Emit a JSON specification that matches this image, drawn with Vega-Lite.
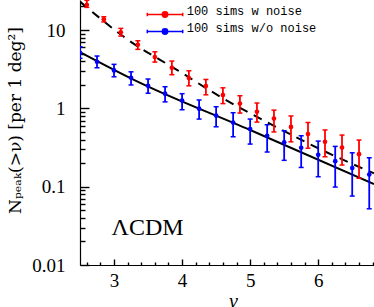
{
  "$schema": "https://vega.github.io/schema/vega-lite/v6.json",
  "width": 294,
  "height": 265,
  "autosize": {"type": "none"},
  "padding": {"left": 80, "top": 0, "right": 0, "bottom": 42},
  "background": "white",
  "config": {
    "view": {"stroke": null, "fill": null},
    "axis": {"zindex": 1, "grid": false, "domainColor": "#000000", "domainWidth": 1.2, "ticks": true, "tickColor": "#000000", "tickWidth": 1.4, "tickOpacity": 1, "labelColor": "#000000", "titleColor": "#000000", "labelFont": "Liberation Serif", "labelFontSize": 19, "titleFont": "Liberation Serif", "titleFontWeight": "normal", "labelOverlap": false, "labelFlush": false, "labelBound": false}
  },
  "resolve": {"axis": {"x": "independent", "y": "independent"}},
  "datasets": {
    "pts": [
      {"s": "100 sims w noise", "nu": 2.6, "n": 21.0, "lo": 19.5, "hi": 24.0},
      {"s": "100 sims w noise", "nu": 2.85, "n": 13.7, "lo": 12.7, "hi": 14.8},
      {"s": "100 sims w noise", "nu": 3.1, "n": 9.35, "lo": 8.38, "hi": 10.5},
      {"s": "100 sims w noise", "nu": 3.35, "n": 6.49, "lo": 5.67, "hi": 7.3},
      {"s": "100 sims w noise", "nu": 3.6, "n": 4.52, "lo": 3.9, "hi": 5.28},
      {"s": "100 sims w noise", "nu": 3.85, "n": 3.3, "lo": 2.69, "hi": 4.02},
      {"s": "100 sims w noise", "nu": 4.1, "n": 2.44, "lo": 1.94, "hi": 3.02},
      {"s": "100 sims w noise", "nu": 4.35, "n": 1.93, "lo": 1.49, "hi": 2.34},
      {"s": "100 sims w noise", "nu": 4.6, "n": 1.48, "lo": 1.15, "hi": 1.83},
      {"s": "100 sims w noise", "nu": 4.85, "n": 1.15, "lo": 0.871, "hi": 1.45},
      {"s": "100 sims w noise", "nu": 5.1, "n": 0.905, "lo": 0.668, "hi": 1.17},
      {"s": "100 sims w noise", "nu": 5.35, "n": 0.74, "lo": 0.5, "hi": 0.95},
      {"s": "100 sims w noise", "nu": 5.6, "n": 0.58, "lo": 0.374, "hi": 0.8},
      {"s": "100 sims w noise", "nu": 5.85, "n": 0.47, "lo": 0.31, "hi": 0.66},
      {"s": "100 sims w noise", "nu": 6.1, "n": 0.374, "lo": 0.241, "hi": 0.53},
      {"s": "100 sims w noise", "nu": 6.35, "n": 0.316, "lo": 0.189, "hi": 0.456},
      {"s": "100 sims w noise", "nu": 6.6, "n": 0.26, "lo": 0.128, "hi": 0.394},
      {"s": "100 sims w/o noise", "nu": 2.5, "n": 5.1, "lo": 4.36, "hi": 6.12},
      {"s": "100 sims w/o noise", "nu": 2.75, "n": 3.94, "lo": 3.3, "hi": 4.66},
      {"s": "100 sims w/o noise", "nu": 3.0, "n": 3.05, "lo": 2.53, "hi": 3.65},
      {"s": "100 sims w/o noise", "nu": 3.25, "n": 2.46, "lo": 1.99, "hi": 2.93},
      {"s": "100 sims w/o noise", "nu": 3.5, "n": 1.94, "lo": 1.56, "hi": 2.37},
      {"s": "100 sims w/o noise", "nu": 3.75, "n": 1.54, "lo": 1.21, "hi": 1.89},
      {"s": "100 sims w/o noise", "nu": 4.0, "n": 1.26, "lo": 0.96, "hi": 1.54},
      {"s": "100 sims w/o noise", "nu": 4.25, "n": 0.99, "lo": 0.73, "hi": 1.28},
      {"s": "100 sims w/o noise", "nu": 4.5, "n": 0.81, "lo": 0.582, "hi": 1.05},
      {"s": "100 sims w/o noise", "nu": 4.75, "n": 0.66, "lo": 0.434, "hi": 0.88},
      {"s": "100 sims w/o noise", "nu": 5.0, "n": 0.544, "lo": 0.35, "hi": 0.73},
      {"s": "100 sims w/o noise", "nu": 5.25, "n": 0.447, "lo": 0.277, "hi": 0.618},
      {"s": "100 sims w/o noise", "nu": 5.5, "n": 0.368, "lo": 0.217, "hi": 0.518},
      {"s": "100 sims w/o noise", "nu": 5.75, "n": 0.314, "lo": 0.176, "hi": 0.447},
      {"s": "100 sims w/o noise", "nu": 6.0, "n": 0.255, "lo": 0.134, "hi": 0.382},
      {"s": "100 sims w/o noise", "nu": 6.25, "n": 0.212, "lo": 0.0989, "hi": 0.327},
      {"s": "100 sims w/o noise", "nu": 6.5, "n": 0.173, "lo": 0.0759, "hi": 0.271},
      {"s": "100 sims w/o noise", "nu": 6.75, "n": 0.143, "lo": 0.0522, "hi": 0.234}
    ],
    "fits": [
      {"fit": "noise", "nu": 2.5, "n": 23.1},
      {"fit": "noise", "nu": 3.19, "n": 7.67},
      {"fit": "noise", "nu": 3.93, "n": 3.08},
      {"fit": "noise", "nu": 4.61, "n": 1.33},
      {"fit": "noise", "nu": 5.33, "n": 0.612},
      {"fit": "noise", "nu": 6.04, "n": 0.298},
      {"fit": "noise", "nu": 6.82, "n": 0.148},
      {"fit": "clean", "nu": 2.5, "n": 5.24},
      {"fit": "clean", "nu": 3.3, "n": 2.3},
      {"fit": "clean", "nu": 5.0, "n": 0.53},
      {"fit": "clean", "nu": 6.82, "n": 0.108}
    ]
  },
  "layer": [
    {
      "data": {"name": "fits"},
      "transform": [{"filter": "datum.fit === 'noise'"}],
      "mark": {"type": "line", "color": "black", "strokeWidth": 2, "strokeDash": [9, 7], "interpolate": "monotone", "clip": true},
      "encoding": {
        "x": {
          "field": "nu", "type": "quantitative",
          "scale": {"domain": [2.5, 6.82], "nice": false, "zero": false},
          "axis": {
            "orient": "bottom",
            "title": "ν", "titleFont": "Liberation Serif", "titleFontStyle": "italic", "titleFontSize": 20,
            "titleX": 153, "titleY": 42, "titleBaseline": "alphabetic",
            "values": [3, 4, 5, 6], "format": "d",
            "ticks": false, "labelPadding": 6
          }
        },
        "y": {
          "field": "n", "type": "quantitative",
          "scale": {"type": "log", "domain": [0.01, 24.2], "nice": false},
          "axis": {
            "orient": "left",
            "title": "Nₚₑₐₖ(>ν) [per 1 deg²]", "titleFont": "DejaVu Serif", "titleFontSize": 17,
            "titleX": -60, "titleY": 120, "titleAngle": -90, "titleAlign": "center", "titleBaseline": "alphabetic",
            "values": [0.01, 0.1, 1, 10], "format": "~g",
            "ticks": false, "labelPadding": 15, "labelBaseline": "middle"
          }
        }
      }
    },
    {
      "data": {"name": "fits"},
      "transform": [{"filter": "datum.fit === 'clean'"}],
      "mark": {"type": "line", "color": "black", "strokeWidth": 2, "interpolate": "monotone", "clip": true},
      "encoding": {
        "x": {
          "field": "nu", "type": "quantitative",
          "axis": {
            "orient": "bottom", "title": null, "labels": false, "domain": false, "ticks": true,
            "values": [3, 4, 5, 6], "offset": -6, "tickSize": 6
          }
        },
        "y": {
          "field": "n", "type": "quantitative",
          "axis": {
            "orient": "left", "title": null, "labels": false, "domain": false, "ticks": true,
            "values": [0.01, 0.1, 1, 10], "offset": -9, "tickSize": 9
          }
        }
      }
    },
    {
      "data": {"name": "pts"},
      "mark": {"type": "rule", "strokeWidth": 1.8, "clip": true},
      "encoding": {
        "x": {
          "field": "nu", "type": "quantitative",
          "axis": {
            "orient": "bottom", "title": null, "labels": false, "domain": false, "ticks": true,
            "values": [2.6, 2.8, 3.2, 3.4, 3.6, 3.8, 4.2, 4.4, 4.6, 4.8, 5.2, 5.4, 5.6, 5.8, 6.2, 6.4, 6.6, 6.8],
            "offset": -3, "tickSize": 3
          }
        },
        "y": {
          "field": "lo", "type": "quantitative",
          "axis": {
            "orient": "left", "title": null, "labels": false, "domain": false, "ticks": true,
            "values": [0.02, 0.03, 0.04, 0.05, 0.06, 0.07, 0.08, 0.09, 0.2, 0.3, 0.4, 0.5, 0.6, 0.7, 0.8, 0.9, 2, 3, 4, 5, 6, 7, 8, 9, 20],
            "offset": -5, "tickSize": 5
          }
        },
        "y2": {"field": "hi"},
        "color": {"field": "s", "type": "nominal"}
      }
    },
    {
      "data": {"name": "pts"},
      "mark": {"type": "tick", "orient": "horizontal", "size": 5, "thickness": 1.5, "opacity": 1, "clip": true},
      "encoding": {
        "x": {"field": "nu", "type": "quantitative", "axis": null},
        "y": {"field": "lo", "type": "quantitative", "axis": null},
        "color": {"field": "s", "type": "nominal"}
      }
    },
    {
      "data": {"name": "pts"},
      "mark": {"type": "tick", "orient": "horizontal", "size": 5, "thickness": 1.5, "opacity": 1, "clip": true},
      "encoding": {
        "x": {"field": "nu", "type": "quantitative", "axis": null},
        "y": {"field": "hi", "type": "quantitative", "axis": null},
        "color": {"field": "s", "type": "nominal"}
      }
    },
    {
      "data": {"name": "pts"},
      "mark": {"type": "point", "filled": true, "size": 22, "opacity": 1, "clip": true},
      "encoding": {
        "x": {"field": "nu", "type": "quantitative", "axis": null},
        "y": {"field": "n", "type": "quantitative", "axis": null},
        "color": {
          "field": "s", "type": "nominal",
          "scale": {"domain": ["100 sims w noise", "100 sims w/o noise"], "range": ["#ff0000", "#0000ff"]},
          "legend": {
            "orient": "none", "legendX": 79, "legendY": 8.5, "title": null, "padding": 0, "rowPadding": 1,
            "symbolType": "M-5.9,0H5.9M-5.9,-0.55V0.55M5.9,-0.55V0.55M-0.9,0A0.9,0.9 0 1,0 0.9,0A0.9,0.9 0 1,0 -0.9,0Z",
            "symbolSize": 36, "symbolStrokeWidth": 1.5, "symbolOffset": 0,
            "labelFont": "Liberation Mono", "labelFontSize": 12, "labelOffset": 15.7, "labelBaseline": "alphabetic",
            "encode": {
              "symbols": {"update": {"stroke": {"scale": "color", "field": "value"}, "fill": {"scale": "color", "field": "value"}, "opacity": {"value": 1}}},
              "labels": {"update": {"fill": {"scale": "color", "field": "value"}, "dy": {"value": 2.5}}}
            }
          }
        }
      }
    },
    {
      "data": {"values": [{"label": "ΛCDM"}]},
      "mark": {"type": "text", "font": "Liberation Serif", "fontSize": 24, "align": "left", "baseline": "alphabetic", "color": "black"},
      "encoding": {
        "x": {"datum": 2.964, "type": "quantitative", "axis": null},
        "y": {"datum": 0.0244, "type": "quantitative", "axis": null},
        "text": {"field": "label"}
      }
    }
  ]
}
